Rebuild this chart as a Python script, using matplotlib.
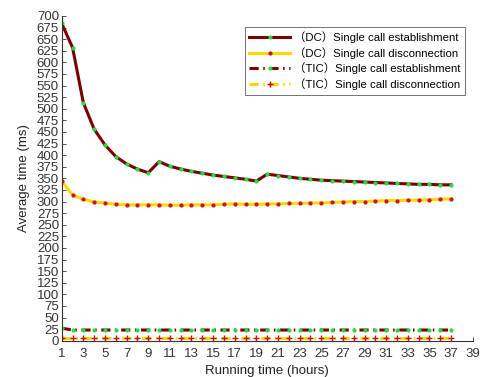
import matplotlib
matplotlib.use("Agg")
import matplotlib.pyplot as plt
import numpy as np

plt.rcParams['font.family'] = ['Liberation Sans', 'Noto Sans CJK SC', 'DejaVu Sans']

hours = list(range(1, 38))
dc_est = [684, 632, 513, 456, 422, 397, 381, 370, 362, 386, 376, 370, 365, 361, 357, 354, 351, 348, 344,
          359, 356, 353, 350, 348, 346, 345, 344, 343, 342, 341, 340, 339, 338, 337, 337, 336, 336]
dc_disc = [344, 314, 305, 299, 297, 294, 293, 293, 293, 293, 292, 292, 293, 293, 293, 294, 295, 294, 294,
           295, 295, 296, 296, 297, 297, 298, 299, 300, 300, 301, 302, 302, 303, 303, 304, 305, 306]
tic_est = [27, 23, 23, 23, 23, 23, 23, 23, 23, 23, 23, 23, 23, 23, 23, 23, 23, 23, 23,
           23, 23, 23, 23, 23, 23, 23, 23, 23, 23, 23, 23, 23, 23, 23, 23, 23, 23]
tic_disc = [5, 5, 5, 5, 5, 5, 5, 5, 5, 5, 5, 5, 5, 5, 5, 5, 5, 5, 5,
            5, 5, 5, 5, 5, 5, 5, 5, 5, 5, 5, 5, 5, 5, 5, 5, 5, 5]
labels = ['（DC）Single call establishment', '（DC）Single call disconnection',
          '（TIC）Single call establishment', '（TIC）Single call disconnection']
xticks = list(range(1, 40, 2))
yticks = list(range(0, 701, 25))

dark_red = '#7a0000'
yellow = '#ffd700'
green = '#22dd44'
red = '#cc1111'
dashdot = (0, (3, 1.5, 0.5, 1.5))

fig = plt.figure(figsize=(4.86, 3.77), dpi=100)
ax = fig.add_axes([0.127, 0.0963, 0.8456, 0.8613])

ax.plot(hours, dc_est, '-', color=dark_red, lw=2.2, marker='.', ms=4, mfc=green, mec=green, label=labels[0])
ax.plot(hours, dc_disc, '-', color=yellow, lw=2.2, marker='.', ms=4, mfc=red, mec=red, label=labels[1])
ax.plot(hours, tic_est, color=dark_red, lw=2.2, ls=dashdot, marker='.', ms=4,
        mfc=green, mec=green, label=labels[2])
ax.plot(hours, tic_disc, color=yellow, lw=2.2, ls=dashdot, marker='+', ms=4,
        mfc=red, mec=red, label=labels[3])

ax.set_xlim(1, 39)
ax.set_ylim(0, 700)
ax.set_xticks(xticks)
ax.set_yticks(yticks)
ax.tick_params(direction='in', labelsize=9.5, length=3, width=0.6, colors='#333333', labelcolor='#333333')
ax.tick_params(axis='x', pad=5)
ax.tick_params(axis='y', pad=2)
for s in ['top', 'right']:
    ax.spines[s].set_visible(False)
for s in ['left', 'bottom']:
    ax.spines[s].set_linewidth(0.8)
    ax.spines[s].set_color('#333333')

ax.set_xlabel('Running time (hours)', fontsize=9.5, color='#222222', labelpad=4)
ax.set_ylabel('Average time (ms)', fontsize=9.5, color='#222222', labelpad=5)

leg = ax.legend(loc='upper right', bbox_to_anchor=(0.995, 0.985), fontsize=8.2, frameon=True,
                fancybox=False, edgecolor='#333333', handlelength=3.6, borderpad=0.4,
                labelspacing=0.35, handletextpad=0.3)
leg.get_frame().set_linewidth(0.6)

fig.savefig('out.png', dpi=100)
